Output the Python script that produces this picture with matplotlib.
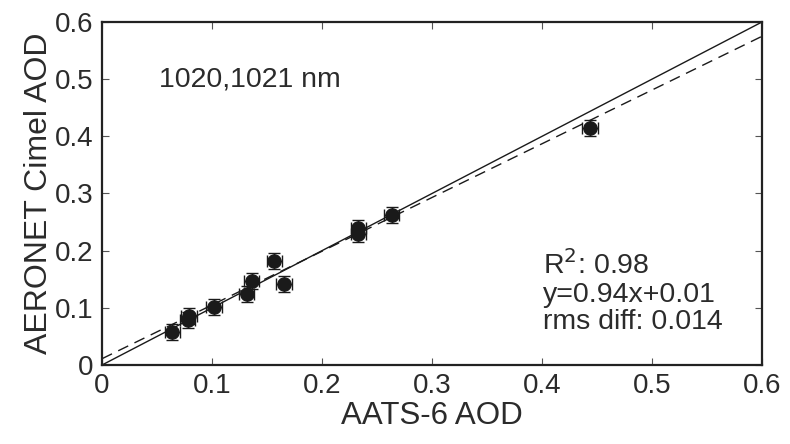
import matplotlib
matplotlib.use("Agg")
import matplotlib.pyplot as plt
import numpy as np

plt.rcParams['font.family'] = ['Liberation Sans', 'DejaVu Sans']

aats_aod = [0.064, 0.078, 0.079, 0.102, 0.1315, 0.136, 0.1566, 0.1655, 0.233, 0.233, 0.2634, 0.4436]
cimel_aod = [0.058, 0.078, 0.086, 0.101, 0.124, 0.147, 0.182, 0.142, 0.230, 0.240, 0.262, 0.415]
x_err = [0.007] * len(aats_aod)
y_err = [0.014] * len(aats_aod)
fit_slope = 0.94
fit_intercept = 0.011
xticks = [0, 0.1, 0.2, 0.3, 0.4, 0.5, 0.6]
yticks = [0, 0.1, 0.2, 0.3, 0.4, 0.5, 0.6]
tick_labels = ['0', '0.1', '0.2', '0.3', '0.4', '0.5', '0.6']

fig = plt.figure(figsize=(7.9, 4.44), dpi=100)
ax = fig.add_axes([0.1291, 0.1779, 0.8355, 0.7726])
tc = '#2b2b2b'

line = np.array([0, 0.6])
ax.plot(line, line, color='#1a1a1a', lw=1.0)
ax.plot(line, fit_slope * line + fit_intercept, color='#1a1a1a', lw=1.0, dashes=(8, 5))

ax.errorbar(aats_aod, cimel_aod, xerr=x_err, yerr=y_err, fmt='o', color='#1a1a1a',
            ms=9.5, ecolor='#1a1a1a', elinewidth=1.0, capsize=4.5, capthick=1.0)

ax.set_xlim(0, 0.6)
ax.set_ylim(0, 0.6)
ax.set_xticks(xticks)
ax.set_xticklabels(tick_labels)
ax.set_yticks(yticks)
ax.set_yticklabels(tick_labels)
ax.tick_params(direction='in', top=True, right=True, length=5, width=0.8,
               labelsize=20, labelcolor=tc, color='#555555', pad=6)
for s in ax.spines.values():
    s.set_linewidth(1.6)
    s.set_color('#222222')

ax.set_xlabel('AATS-6 AOD', fontsize=22.5, color=tc, labelpad=1)
ax.set_ylabel('AERONET Cimel AOD', fontsize=23, color=tc, labelpad=1)

ax.text(0.052, 0.50, '1020,1021 nm', fontsize=20.5, color=tc, va='center', ha='left')
ax.text(0.4006, 0.175, r'R$^2$: 0.98', fontsize=20.5, color=tc, va='center', ha='left')
ax.text(0.4006, 0.1225, 'y=0.94x+0.01', fontsize=20.5, color=tc, va='center', ha='left')
ax.text(0.4006, 0.076, 'rms diff: 0.014', fontsize=20.5, color=tc, va='center', ha='left')

fig.savefig('out.png', dpi=100)
